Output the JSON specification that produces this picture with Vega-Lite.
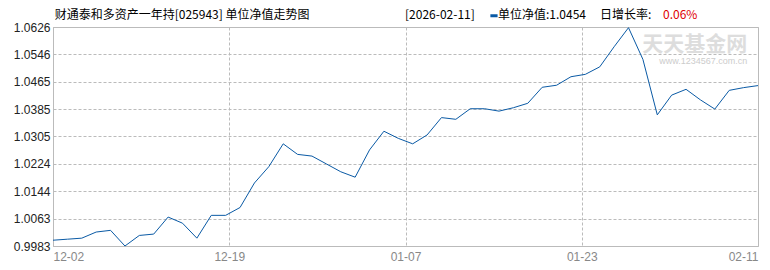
{
  "$schema": "https://vega.github.io/schema/vega-lite/v6.json",
  "width": 705,
  "height": 219,
  "autosize": "none",
  "padding": {"left": 53, "top": 27, "right": 12, "bottom": 24},
  "background": "white",
  "config": {
    "view": {"stroke": "#bbbbbb", "strokeWidth": 1},
    "font": "Liberation Sans"
  },
  "datasets": {
    "nav": [
      {"i": 0, "date": "2025-12-02", "nav": 1.0000},
      {"i": 1, "date": "2025-12-03", "nav": 1.0003},
      {"i": 2, "date": "2025-12-04", "nav": 1.0006},
      {"i": 3, "date": "2025-12-05", "nav": 1.0024},
      {"i": 4, "date": "2025-12-08", "nav": 1.0029},
      {"i": 5, "date": "2025-12-09", "nav": 0.9983},
      {"i": 6, "date": "2025-12-10", "nav": 1.0014},
      {"i": 7, "date": "2025-12-11", "nav": 1.0018},
      {"i": 8, "date": "2025-12-12", "nav": 1.0068},
      {"i": 9, "date": "2025-12-15", "nav": 1.0050},
      {"i": 10, "date": "2025-12-16", "nav": 1.0006},
      {"i": 11, "date": "2025-12-17", "nav": 1.0073},
      {"i": 12, "date": "2025-12-18", "nav": 1.0073},
      {"i": 13, "date": "2025-12-19", "nav": 1.0096},
      {"i": 14, "date": "2025-12-22", "nav": 1.0168},
      {"i": 15, "date": "2025-12-23", "nav": 1.0216},
      {"i": 16, "date": "2025-12-24", "nav": 1.0283},
      {"i": 17, "date": "2025-12-25", "nav": 1.0252},
      {"i": 18, "date": "2025-12-26", "nav": 1.0247},
      {"i": 19, "date": "2025-12-29", "nav": 1.0224},
      {"i": 20, "date": "2025-12-30", "nav": 1.0201},
      {"i": 21, "date": "2025-12-31", "nav": 1.0185},
      {"i": 22, "date": "2026-01-05", "nav": 1.0265},
      {"i": 23, "date": "2026-01-06", "nav": 1.0320},
      {"i": 24, "date": "2026-01-07", "nav": 1.0299},
      {"i": 25, "date": "2026-01-08", "nav": 1.0283},
      {"i": 26, "date": "2026-01-09", "nav": 1.0309},
      {"i": 27, "date": "2026-01-12", "nav": 1.0360},
      {"i": 28, "date": "2026-01-13", "nav": 1.0355},
      {"i": 29, "date": "2026-01-14", "nav": 1.0386},
      {"i": 30, "date": "2026-01-15", "nav": 1.0386},
      {"i": 31, "date": "2026-01-16", "nav": 1.0379},
      {"i": 32, "date": "2026-01-19", "nav": 1.0389},
      {"i": 33, "date": "2026-01-20", "nav": 1.0402},
      {"i": 34, "date": "2026-01-21", "nav": 1.0449},
      {"i": 35, "date": "2026-01-22", "nav": 1.0455},
      {"i": 36, "date": "2026-01-23", "nav": 1.0480},
      {"i": 37, "date": "2026-01-26", "nav": 1.0487},
      {"i": 38, "date": "2026-01-27", "nav": 1.0509},
      {"i": 39, "date": "2026-01-28", "nav": 1.0568},
      {"i": 40, "date": "2026-01-29", "nav": 1.0624},
      {"i": 41, "date": "2026-01-30", "nav": 1.0531},
      {"i": 42, "date": "2026-02-02", "nav": 1.0368},
      {"i": 43, "date": "2026-02-03", "nav": 1.0426},
      {"i": 44, "date": "2026-02-04", "nav": 1.0443},
      {"i": 45, "date": "2026-02-05", "nav": 1.0412},
      {"i": 46, "date": "2026-02-06", "nav": 1.0385},
      {"i": 47, "date": "2026-02-09", "nav": 1.0440},
      {"i": 48, "date": "2026-02-10", "nav": 1.0448},
      {"i": 49, "date": "2026-02-11", "nav": 1.0454}
    ]
  },
  "layer": [
    {
      "data": {"values": [{"t": "天天基金网"}]},
      "mark": {"type": "text", "font": "Noto Sans CJK SC", "fontSize": 21, "fontWeight": "bold", "color": "#dddddd", "align": "right", "baseline": "middle", "letterSpacing": 1},
      "encoding": {
        "x": {"datum": 48.25, "type": "quantitative"},
        "y": {"datum": 1.0574, "type": "quantitative"},
        "text": {"field": "t"}
      }
    },
    {
      "data": {"values": [{"t": "www.1234567.com.cn"}]},
      "mark": {"type": "text", "font": "Liberation Sans", "fontSize": 9, "color": "#cccccc", "align": "right", "baseline": "middle", "letterSpacing": 1.2},
      "encoding": {
        "x": {"datum": 48.25, "type": "quantitative"},
        "y": {"datum": 1.0527, "type": "quantitative"},
        "text": {"field": "t"}
      }
    },
    {
      "data": {"name": "nav"},
      "mark": {"type": "line", "color": "#0a5aa5", "strokeWidth": 1, "interpolate": "linear"},
      "encoding": {
        "x": {
          "field": "i",
          "type": "quantitative",
          "scale": {"domain": [0, 49], "nice": false, "zero": false},
          "axis": {
            "title": null,
            "values": [0, 12.25, 24.5, 36.75, 49],
            "tickCount": 20,
            "labelExpr": "datum.value == 0 ? '12-02' : datum.value == 12.25 ? '12-19' : datum.value == 24.5 ? '01-07' : datum.value == 36.75 ? '01-23' : '02-11'",
            "labelFlush": true,
            "labelOverlap": false,
            "labelFont": "Liberation Sans",
            "labelFontSize": 12,
            "labelColor": "#888888",
            "labelPadding": 5,
            "ticks": false,
            "domain": true,
            "domainColor": "#bbbbbb",
            "grid": true,
            "gridColor": "#bbbbbb",
            "gridDash": [3, 2],
            "gridWidth": 1
          }
        },
        "y": {
          "field": "nav",
          "type": "quantitative",
          "scale": {"domain": [0.9983, 1.0626], "nice": false, "zero": false},
          "axis": {
            "title": null,
            "values": [0.9983, 1.0063, 1.0144, 1.0224, 1.0305, 1.0385, 1.0465, 1.0546, 1.0626],
            "tickCount": 20,
            "format": ".4f",
            "labelOverlap": false,
            "labelFont": "Liberation Sans",
            "labelFontSize": 12,
            "labelColor": "#222222",
            "labelPadding": 3,
            "ticks": false,
            "domain": false,
            "grid": true,
            "gridColor": "#bbbbbb",
            "gridDash": [3, 2],
            "gridWidth": 1
          }
        }
      }
    },
    {
      "data": {"values": [{"t": "财通泰和多资产一年持[025943] 单位净值走势图"}]},
      "mark": {"type": "text", "font": "Noto Sans CJK SC", "fontSize": 12, "color": "#000000", "align": "left", "baseline": "middle"},
      "encoding": {
        "x": {"datum": 0.12, "type": "quantitative"},
        "y": {"datum": 1.0660, "type": "quantitative"},
        "text": {"field": "t"}
      }
    },
    {
      "data": {"values": [{"t": "[2026-02-11]"}]},
      "mark": {"type": "text", "font": "Noto Sans CJK SC", "fontSize": 12, "color": "#000000", "align": "left", "baseline": "middle"},
      "encoding": {
        "x": {"datum": 24.47, "type": "quantitative"},
        "y": {"datum": 1.0660, "type": "quantitative"},
        "text": {"field": "t"}
      }
    },
    {
      "data": {"values": [{"t": "单位净值"}]},
      "mark": {"type": "rule", "color": "#0a5aa5", "strokeWidth": 3},
      "encoding": {
        "x": {"datum": 30.4, "type": "quantitative"},
        "x2": {"datum": 30.9},
        "y": {"datum": 1.0659, "type": "quantitative"}
      }
    },
    {
      "data": {"values": [{"t": "单位净值:1.0454"}]},
      "mark": {"type": "text", "font": "Noto Sans CJK SC", "fontSize": 12, "color": "#000000", "align": "left", "baseline": "middle", "letterSpacing": 0.4},
      "encoding": {
        "x": {"datum": 30.93, "type": "quantitative"},
        "y": {"datum": 1.0660, "type": "quantitative"},
        "text": {"field": "t"}
      }
    },
    {
      "data": {"values": [{"t": "日增长率:"}]},
      "mark": {"type": "text", "font": "Noto Sans CJK SC", "fontSize": 12, "color": "#000000", "align": "left", "baseline": "middle"},
      "encoding": {
        "x": {"datum": 38.02, "type": "quantitative"},
        "y": {"datum": 1.0660, "type": "quantitative"},
        "text": {"field": "t"}
      }
    },
    {
      "data": {"values": [{"t": "0.06%"}]},
      "mark": {"type": "text", "font": "Noto Sans CJK SC", "fontSize": 12, "color": "#e00000", "align": "left", "baseline": "middle"},
      "encoding": {
        "x": {"datum": 42.4, "type": "quantitative"},
        "y": {"datum": 1.0660, "type": "quantitative"},
        "text": {"field": "t"}
      }
    }
  ]
}
